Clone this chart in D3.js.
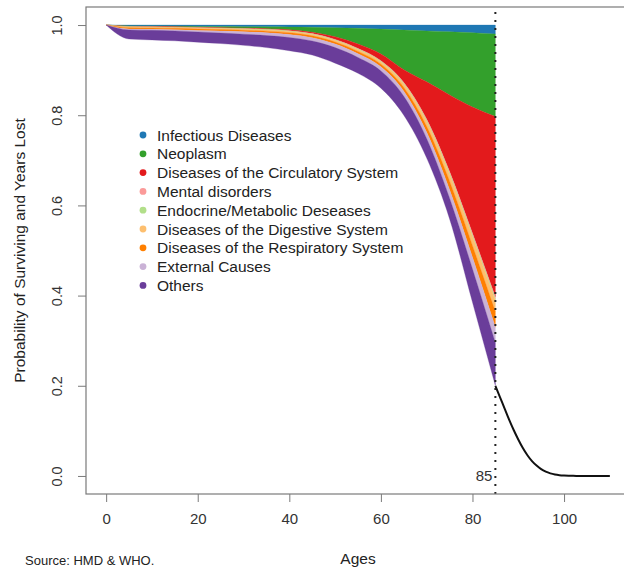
<!DOCTYPE html>
<html>
<head>
<meta charset="utf-8">
<script src="https://cdn.jsdelivr.net/npm/d3@7"></script>
<style>
body { margin: 0; background: #fff; }
svg { font-family: "Liberation Sans", Arial, sans-serif; }
</style>
</head>
<body>
<div id="chart"></div>
<script>
var width = 624
var height = 568

// ages of the stacked part (years lost by cause, cumulative)
var ages = [0, 5, 10, 15, 20, 25, 30, 35, 40, 45, 50, 55, 60, 65, 70, 75, 80, 85]

var causes = ['Infectious Diseases', 'Neoplasm', 'Diseases of the Circulatory System', 'Mental disorders',
  'Endocrine/Metabolic Deseases', 'Diseases of the Digestive System', 'Diseases of the Respiratory System',
  'External Causes', 'Others']

var infectious = [0, .002, .0022, .0025, .003, .0033, .0036, .004, .0045, .005, .006, .007, .009, .011, .013, .015, .017, .020]
var neoplasm = [0, .001, .0012, .0015, .002, .0025, .003, .004, .006, .011, .020, .035, .055, .088, .113, .14, .165, .183]
var circulatory = [0, .0005, .0006, .0007, .0008, .001, .0012, .0015, .002, .003, .006, .010, .015, .0284, .0831, .17, .28, .40]
var mental = [0, .0005, .0005, .0005, .0005, .0005, .0006, .0006, .0007, .0008, .0009, .001, .0012, .0016, .0022, .003, .0035, .004]
var endocrine = [0, .0005, .0005, .0005, .0006, .0006, .0007, .0008, .0009, .001, .0011, .0013, .0015, .002, .0027, .0033, .0037, .004]
var digestive = [0, .0015, .0016, .0017, .0019, .0021, .0023, .0026, .0029, .0032, .0036, .0042, .005, .0075, .011, .015, .020, .025]
var respiratory = [0, .003, .003, .0031, .0032, .0033, .0034, .0036, .0039, .0042, .0046, .0052, .006, .0085, .013, .019, .026, .034]
var external = [0, .002, .0022, .0026, .0035, .0045, .0055, .0062, .0068, .0073, .0078, .0083, .009, .011, .014, .019, .026, .035]
var others = [0, .020, .0212, .0219, .0225, .0232, .0247, .0267, .0293, .031, .0345, .035, .0383, .042, .043, .0457, .0738, .095]

var series_values = [infectious, neoplasm, circulatory, mental, endocrine, digestive, respiratory, external, others]

// survival beyond the cut-off age
var tail_ages = [85, 86, 87, 88, 89, 90, 91, 92, 93, 94, 95, 96, 97, 98, 99, 100, 101, 102, 103, 104, 105, 106, 107, 108, 109, 110]
var tail_survival = [.20, .175, .15, .125, .102, .081, .062, .046, .033, .023, .015, .0095, .0058, .0033, .0018, .001, .0005, .0002, .0001, 0, 0, 0, 0, 0, 0, 0]

var x_ticks = [0, 20, 40, 60, 80, 100]
var y_ticks = [0, 0.2, 0.4, 0.6, 0.8, 1.0]
var cutoff_age = 85

var colours = ['#1f78b4', '#33a02c', '#e31a1c', '#fb9a99', '#b2df8a', '#fdbf6f', '#ff7f00', '#cab2d6', '#6a3d9a']

var plot_left = 86, plot_right = 630, plot_top = 7, plot_bottom = 494

var x = d3.scaleLinear().domain([-4.4, 114.4]).range([plot_left, plot_right])
var y = d3.scaleLinear().domain([-0.04, 1.04]).range([plot_bottom, plot_top])

var svg = d3.select('#chart')
  .append('svg')
  .attr('width', width)
  .attr('height', height)

// table for d3.stack
var rows = ages.map(function(a, i) {
  var r = {age: a}
  causes.forEach(function(c, j) { r[c] = series_values[j][i] })
  return r
})

var stacked = d3.stack().keys(causes)(rows)

// stacked from the top (1.0) downwards
var area = d3.area()
  .x(function(d) { return x(d.data.age) })
  .y0(function(d) { return y(1 - d[0]) })
  .y1(function(d) { return y(1 - d[1]) })
  .curve(d3.curveMonotoneX)

svg.selectAll('.layer')
  .data(stacked)
  .enter()
  .append('path')
  .attr('class', 'layer')
  .attr('d', area)
  .attr('fill', function(d, i) { return colours[i] })
  .attr('stroke', function(d, i) { return colours[i] })
  .attr('stroke-width', 0.3)

// survival after 85
var line = d3.line()
  .x(function(d, i) { return x(tail_ages[i]) })
  .y(function(d) { return y(d) })
  .curve(d3.curveMonotoneX)

svg.append('path')
  .attr('d', line(tail_survival))
  .attr('fill', 'none')
  .attr('stroke', '#111')
  .attr('stroke-width', 2)

// dotted line at 85
svg.append('line')
  .attr('x1', x(cutoff_age))
  .attr('x2', x(cutoff_age))
  .attr('y1', plot_bottom)
  .attr('y2', plot_top)
  .attr('stroke', '#222')
  .attr('stroke-width', 2)
  .attr('stroke-dasharray', '2,6')

svg.append('text')
  .attr('x', x(cutoff_age) - 3)
  .attr('y', y(0) + 5)
  .text(cutoff_age)
  .attr('text-anchor', 'end')
  .attr('fill', '#333')
  .style('font-size', '15px')

// box
svg.append('rect')
  .attr('x', plot_left)
  .attr('y', plot_top)
  .attr('width', plot_right - plot_left)
  .attr('height', plot_bottom - plot_top)
  .attr('fill', 'none')
  .attr('stroke', '#7a7a7a')
  .attr('stroke-width', 1.2)

// x axis
var xAxis = svg.append('g')
  .attr('transform', 'translate(0,' + plot_bottom + ')')
  .call(d3.axisBottom(x).tickValues(x_ticks).tickSize(8).tickPadding(11).tickFormat(d3.format('d')))
xAxis.select('.domain').remove()
xAxis.selectAll('line').attr('stroke', '#7a7a7a')
xAxis.selectAll('text').attr('fill', '#333').style('font-size', '15px').style('font-family', '"Liberation Sans", Arial, sans-serif')

// y axis
var yAxis = svg.append('g')
  .attr('transform', 'translate(' + plot_left + ',0)')
  .call(d3.axisLeft(y).tickValues(y_ticks).tickSize(8).tickFormat(d3.format('.1f')))
yAxis.select('.domain').remove()
yAxis.selectAll('line').attr('stroke', '#7a7a7a')
yAxis.selectAll('text')
  .attr('x', null)
  .attr('dy', null)
  .attr('transform', function(d) { return 'translate(-28,0) rotate(-90)' })
  .attr('text-anchor', 'middle')
  .attr('dominant-baseline', 'middle')
  .attr('fill', '#333')
  .style('font-size', '14.5px')
  .style('font-family', '"Liberation Sans", Arial, sans-serif')

// axis titles
svg.append('text')
  .attr('transform', 'translate(25,' + ((plot_top + plot_bottom) / 2) + ') rotate(-90)')
  .text('Probability of Surviving and Years Lost')
  .attr('text-anchor', 'middle')
  .attr('fill', '#222')
  .style('font-size', '15.5px')

svg.append('text')
  .attr('x', (plot_left + plot_right) / 2)
  .attr('y', 564)
  .text('Ages')
  .attr('text-anchor', 'middle')
  .attr('fill', '#222')
  .style('font-size', '15.5px')

svg.append('text')
  .attr('x', 25)
  .attr('y', 565)
  .text('Source: HMD & WHO.')
  .attr('text-anchor', 'start')
  .attr('fill', '#222')
  .style('font-size', '13px')

// legend
var legend = svg.append('g')

legend.selectAll('circle')
  .data(causes)
  .enter()
  .append('circle')
  .attr('cx', 143)
  .attr('cy', function(d, i) { return 135 + i * 18.8 })
  .attr('r', 3.4)
  .attr('fill', function(d, i) { return colours[i] })

legend.selectAll('text')
  .data(causes)
  .enter()
  .append('text')
  .attr('x', 157)
  .attr('y', function(d, i) { return 135 + i * 18.8 + 5.5 })
  .text(function(d) { return d })
  .attr('fill', '#222')
  .style('font-size', '15.5px')
</script>
</body>
</html>
